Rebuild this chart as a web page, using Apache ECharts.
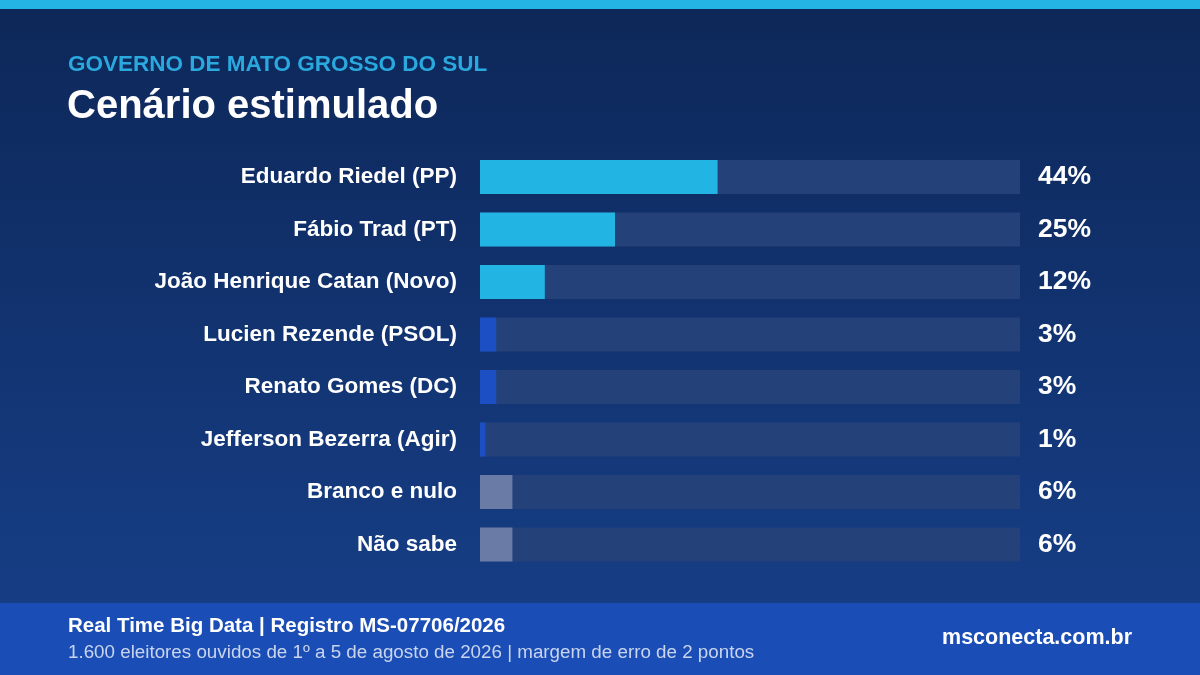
<!DOCTYPE html>
<html><head><meta charset="utf-8">
<script src="https://cdn.jsdelivr.net/npm/echarts@6/dist/echarts.min.js"></script>
<style>html,body{margin:0;padding:0;background:#0e2a5e}#c{width:1200px;height:675px}</style>
</head><body><div id="c"></div>
<script>
const categories = ["Eduardo Riedel (PP)","Fábio Trad (PT)","João Henrique Catan (Novo)","Lucien Rezende (PSOL)","Renato Gomes (DC)","Jefferson Bezerra (Agir)","Branco e nulo","Não sabe"];
const values = [44,25,12,3,3,1,6,6];
const groups = ["lead","lead","lead","other","other","other","blank","blank"];
const groupColors = {lead:"#22b5e3", other:"#1d4fc4", blank:"#6a7ca6"};
const trackMax = 100;

const F = '"Liberation Sans", Arial, Helvetica, sans-serif';
const chart = echarts.init(document.getElementById('c'), null, {renderer:'canvas'});
chart.setOption({
  backgroundColor: {type:'linear',x:0,y:0,x2:0,y2:1,colorStops:[{offset:0,color:'#0d2758'},{offset:1,color:'#17408a'}]},
  animation:false,
  graphic:[
    {type:'rect',shape:{x:0,y:0,width:1200,height:9},style:{fill:'#25b5e5'}},
    {type:'rect',shape:{x:0,y:603,width:1200,height:72},style:{fill:'#1a4db5'}},
    {type:'text',style:{x:68,y:65,verticalAlign:'middle',text:'GOVERNO DE MATO GROSSO DO SUL',fill:'#2aa9df',font:'bold 22.5px '+F}},
    {type:'text',style:{x:67,y:107,verticalAlign:'middle',text:'Cenário estimulado',fill:'#ffffff',font:'bold 40px '+F}},
    {type:'text',style:{x:68,y:626,verticalAlign:'middle',text:'Real Time Big Data | Registro MS-07706/2026',fill:'#ffffff',font:'bold 20.5px '+F}},
    {type:'text',style:{x:68,y:653,verticalAlign:'middle',text:'1.600 eleitores ouvidos de 1º a 5 de agosto de 2026 | margem de erro de 2 pontos',fill:'#c9d5ef',font:'18.8px '+F}},
    {type:'text',style:{x:1132,y:638,align:'right',verticalAlign:'middle',text:'msconecta.com.br',fill:'#ffffff',font:'bold 21.5px '+F}}
  ],
  grid:{left:480,right:180,top:150.75,bottom:104.25},
  xAxis:{type:'value',min:0,max:trackMax,show:false},
  yAxis:{type:'category',data:categories,inverse:true,axisLine:{show:false},axisTick:{show:false},
    axisLabel:{color:'#ffffff',fontFamily:F,fontWeight:'bold',fontSize:22.5,margin:23}},
  series:[
    {type:'bar',data:categories.map(()=>trackMax),barWidth:34,silent:true,
      itemStyle:{color:'#25417a'},z:1,
      label:{show:true,position:'right',distance:18,color:'#ffffff',fontFamily:F,fontWeight:'bold',fontSize:26.5,
        formatter:p=>values[p.dataIndex]+'%'}},
    {type:'bar',data:values.map((v,i)=>({value:v,itemStyle:{color:groupColors[groups[i]]}})),barWidth:34,barGap:'-100%',z:2}
  ]
});
</script></body></html>
